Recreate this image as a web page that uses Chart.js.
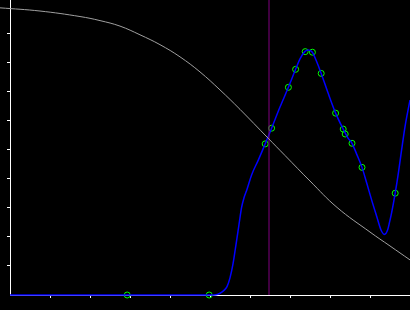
<!DOCTYPE html>
<html>
<head>
<meta charset="UTF-8">
<title>Chart</title>
<script src="https://cdn.jsdelivr.net/npm/chart.js"></script>
<style>
  html, body { margin: 0; padding: 0; background: #000; }
  #wrap { width: 410px; height: 310px; position: relative; }
</style>
</head>
<body>
<div id="wrap"><canvas id="myChart"></canvas></div>
<script>
// Muestras observadas (circulos verdes)
const sampleX = [2.93, 4.98, 6.38, 6.54, 6.96, 7.14, 7.38, 7.56, 7.78, 8.14, 8.33, 8.38, 8.55, 8.8, 9.63];
const sampleY = [0, 0, 5.21, 5.75, 7.16, 7.78, 8.39, 8.37, 7.64, 6.27, 5.72, 5.55, 5.23, 4.4, 3.51];

// Curva azul
const fitX = [0, 5.0, 5.15, 5.25, 5.35, 5.425, 5.5, 5.575, 5.65, 5.725, 5.79, 5.85, 5.92, 6.04, 6.21, 6.38, 6.54,
  6.75, 6.96, 7.14, 7.25, 7.375, 7.46, 7.56, 7.65, 7.78, 7.95, 8.14, 8.33, 8.45, 8.55, 8.675, 8.8,
  8.92, 9.04, 9.17, 9.275, 9.36, 9.44, 9.49, 9.54, 9.63, 9.71, 9.79, 9.875, 10.0];
const fitY = [0, 0, 0.01, 0.06, 0.16, 0.29, 0.59, 1.07, 1.74, 2.43, 3.02, 3.35, 3.62, 4.14, 4.66, 5.21, 5.75,
  6.48, 7.16, 7.78, 8.14, 8.4, 8.45, 8.37, 8.1, 7.64, 6.97, 6.27, 5.72, 5.41, 5.23, 4.83, 4.4,
  3.85, 3.28, 2.7, 2.24, 2.09, 2.24, 2.52, 2.83, 3.51, 4.21, 5.0, 5.8, 6.72];

// Curva gris
const grayX = [-0.25, 0.75, 1.75, 2.25, 2.75, 3.25, 3.75, 4.25, 4.75, 5.25, 5.75, 6.45, 6.875,
  7.5, 8.175, 9.0, 9.5, 10.0];
const grayY = [9.9, 9.79, 9.6, 9.46, 9.27, 8.97, 8.63, 8.21, 7.69, 7.07, 6.4, 5.41, 4.81,
  3.93, 3.02, 2.17, 1.69, 1.21];

// Linea vertical
const markerX = 6.475;

// Rangos y marcas de los ejes
const xMin = 0, xMax = 10;
const yMin = 0, yMax = 10.17;
const xTicks = [1, 2, 3, 4, 5, 6, 7, 8, 9];
const yTicks = [1, 2, 3, 4, 5, 6, 7, 8, 9];

const toPoints = (xs, ys) => xs.map((x, i) => ({ x: x, y: ys[i] }));

const axisStyle = {
  grid: { drawOnChartArea: false, drawTicks: true, tickLength: 3, color: '#ffffff', lineWidth: 1 },
  border: { display: true, color: '#ffffff', width: 1 },
  ticks: { display: false }
};

const ctx = document.getElementById('myChart').getContext('2d');
const myChart = new Chart(ctx, {
  type: 'scatter',
  data: {
    datasets: [
      {
        data: toPoints(grayX, grayY),
        showLine: true,
        borderColor: '#a0a0a0',
        borderWidth: 1,
        pointRadius: 0,
        tension: 0.4,
        clip: false
      },
      {
        data: [{ x: markerX, y: yMin }, { x: markerX, y: yMax }],
        showLine: true,
        borderColor: '#800080',
        borderWidth: 1,
        pointRadius: 0,
        clip: false
      },
      {
        data: toPoints(fitX, fitY),
        showLine: true,
        borderColor: '#0000ff',
        borderWidth: 1.5,
        pointRadius: 0,
        cubicInterpolationMode: 'monotone',
        clip: false
      },
      {
        data: toPoints(sampleX, sampleY),
        showLine: false,
        pointRadius: 3,
        pointBorderWidth: 1,
        pointBorderColor: '#00ff00',
        pointBackgroundColor: 'rgba(0,0,0,0)',
        clip: false
      }
    ]
  },
  options: {
    responsive: true,
    maintainAspectRatio: false,
    animation: false,
    layout: { autoPadding: false, padding: { left: 7, right: 0, top: 0, bottom: 12 } },
    plugins: { legend: { display: false }, tooltip: { enabled: false } },
    scales: {
      x: Object.assign({
        type: 'linear', min: xMin, max: xMax,
        afterBuildTicks: (scale) => { scale.ticks = xTicks.map(v => ({ value: v })); }
      }, axisStyle),
      y: Object.assign({
        type: 'linear', min: yMin, max: yMax,
        afterBuildTicks: (scale) => { scale.ticks = yTicks.map(v => ({ value: v })); }
      }, axisStyle)
    }
  }
});
</script>
</body>
</html>
